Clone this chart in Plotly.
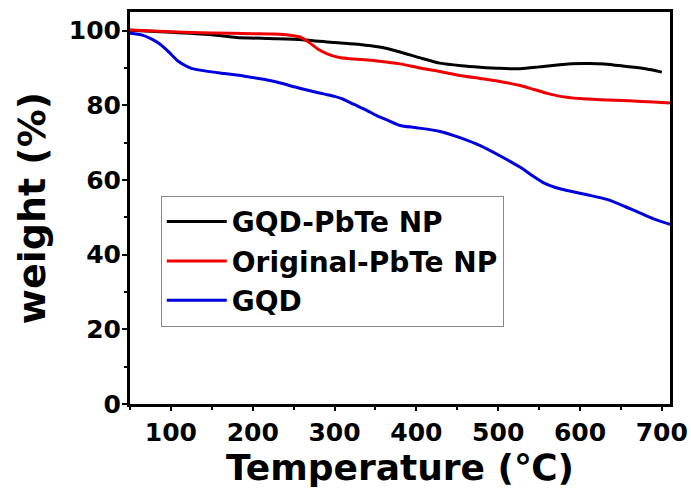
import plotly.graph_objects as go

# GQD-PbTe NP (black)
t_gqd_pbte = [50, 100, 150, 180, 220, 260, 300, 331, 355, 380, 405, 429, 455, 478, 502, 527, 550, 575, 604, 630, 657, 680, 700]
w_gqd_pbte = [100.1, 99.6, 98.9, 98.2, 97.9, 97.6, 96.8, 96.3, 95.6, 94.3, 92.7, 91.3, 90.6, 90.2, 89.9, 89.8, 90.3, 90.9, 91.2, 91.1, 90.4, 89.8, 88.9]

# Original-PbTe NP (red)
t_orig = [50, 100, 150, 200, 227, 245, 258, 268, 280, 291, 306, 319, 355, 380, 404, 430, 453, 478, 502, 527, 543, 560, 576, 600, 625, 660, 690, 710]
w_orig = [100.2, 99.7, 99.4, 99.2, 99.1, 98.8, 98.3, 97.0, 95.0, 93.8, 92.8, 92.5, 91.8, 91.1, 90.0, 89.0, 88.0, 87.2, 86.4, 85.3, 84.3, 83.2, 82.4, 81.8, 81.5, 81.2, 80.9, 80.6]

# GQD (blue)
t_gqd = [50, 65, 76, 86, 96, 109, 118, 125, 145, 166, 190, 215, 235, 252, 270, 288, 300, 310, 323, 338, 352, 366, 380, 400, 429, 455, 478, 502, 527, 543, 555, 570, 584, 610, 633, 655, 673, 690, 710]
w_gqd = [99.3, 98.8, 97.8, 96.5, 94.6, 91.8, 90.6, 89.9, 89.1, 88.5, 87.8, 86.9, 85.9, 84.9, 83.9, 83.0, 82.4, 81.7, 80.3, 78.8, 77.2, 75.9, 74.6, 74.0, 73.0, 71.2, 69.2, 66.5, 63.4, 61.0, 59.3, 58.0, 57.2, 56.0, 54.8, 52.9, 51.2, 49.6, 48.1]

x_ticks = [100, 200, 300, 400, 500, 600, 700]
y_ticks = [0, 20, 40, 60, 80, 100]
x_title = "Temperature (℃)"
y_title = "weight (%)"

FONT = "DejaVu Sans, Liberation Sans, Arial, sans-serif"

fig = go.Figure()
series = [
    ("GQD-PbTe NP", t_gqd_pbte, w_gqd_pbte, "#000000"),
    ("Original-PbTe NP", t_orig, w_orig, "#ee0000"),
    ("GQD", t_gqd, w_gqd, "#0000dd"),
]
for i, (name, xs, ys, col) in enumerate(series):
    fig.add_trace(go.Scatter(x=xs, y=ys, mode="lines", name=name,
                             legendgroup=f"g{i}",
                             line=dict(color=col, width=3, shape="spline", smoothing=0.6)))

axis_common = dict(showline=True, linecolor="black", linewidth=3, mirror=True,
                   ticks="outside", tickwidth=2, tickcolor="black",
                   showgrid=False, zeroline=False, automargin=False,
                   tickfont=dict(family=FONT, size=25, color="black", weight="bold"))

fig.update_layout(
    width=691, height=488,
    margin=dict(l=130, r=21, t=12, b=84),
    paper_bgcolor="white", plot_bgcolor="white",
    showlegend=True,
    legend=dict(x=0.057, y=0.531, xanchor="left", yanchor="top",
                bgcolor="white", bordercolor="#888888", borderwidth=1,
                font=dict(family=FONT, size=28, color="black", weight="bold"),
                tracegroupgap=0, itemwidth=60),
    xaxis=dict(range=[50, 710], tickvals=x_ticks, ticklen=4,
               minor=dict(dtick=50, ticks="outside", ticklen=3, tickwidth=2, tickcolor="black"),
               title=dict(text=x_title, standoff=0,
                          font=dict(family=FONT, size=36, color="black", weight="bold")),
               **axis_common),
    yaxis=dict(range=[0, 105], tickvals=y_ticks, ticklen=5, ticklabelstandoff=-4,
               minor=dict(dtick=10, ticks="outside", ticklen=3, tickwidth=2, tickcolor="black"),
               title=dict(text=y_title, standoff=12,
                          font=dict(family=FONT, size=38, color="black", weight="bold")),
               **axis_common),
)

fig.write_html("out.html", config={"displayModeBar": False},
               post_script="document.body.style.margin='0';")
